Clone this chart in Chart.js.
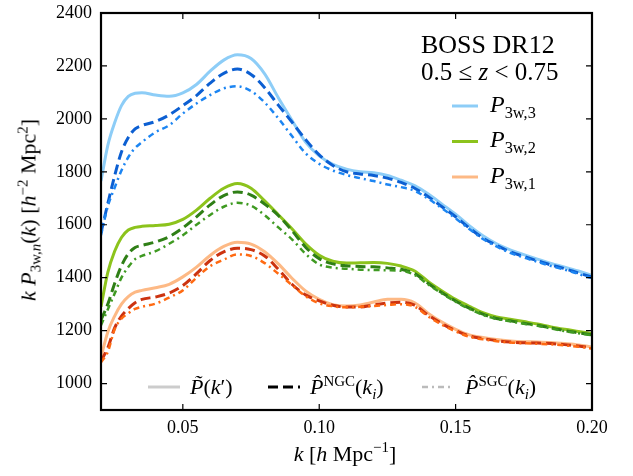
<!DOCTYPE html>
<html>
<head>
<meta charset="utf-8">
<script src="https://cdn.jsdelivr.net/npm/chart.js@4.4.0/dist/chart.umd.min.js"></script>
<style>
body{margin:0;background:#fff;}
#wrap{position:relative;width:633px;height:476px;font-family:"Liberation Serif",serif;color:#000;}
canvas{position:absolute;left:0;top:0;}
.t{position:absolute;white-space:nowrap;line-height:25px;}
.t sub,.t sup{font-size:68%;line-height:0;}
</style>
</head>
<body>
<div id="wrap">
<canvas id="myChart" width="633" height="476"></canvas>
<div class="t" style="left:421px;top:32px;font-size:26px;">BOSS DR12</div>
<div class="t" style="left:421px;top:59px;font-size:25px;">0.5 ≤ <i>z</i> &lt; 0.75</div>
<div class="t" style="left:490px;top:92px;font-size:24px;"><i>P</i><sub>3w,3</sub></div>
<div class="t" style="left:490px;top:127px;font-size:24px;"><i>P</i><sub>3w,2</sub></div>
<div class="t" style="left:490px;top:163px;font-size:24px;"><i>P</i><sub>3w,1</sub></div>
<div class="t" style="left:190px;top:374px;font-size:22px;"><i>P&#771;</i>(<i>k</i>′)</div>
<div class="t" style="left:310px;top:374px;font-size:22px;"><i>P&#770;</i><sup>NGC</sup>(<i>k<sub>i</sub></i>)</div>
<div class="t" style="left:465px;top:374px;font-size:22px;"><i>P&#770;</i><sup>SGC</sup>(<i>k<sub>i</sub></i>)</div>
<div class="t" style="left:345px;top:453px;font-size:22px;transform:translate(-50%,-50%);"><i>k</i> [<i>h</i> Mpc<sup>−1</sup>]</div>
<div class="t" style="left:28px;top:210px;font-size:22px;transform:translate(-50%,-50%) rotate(-90deg);"><i>k</i> <i>P</i><sub>3w,<i>n</i></sub>(<i>k</i>) [<i>h</i><sup>−2</sup> Mpc<sup>2</sup>]</div>
</div>
<script>
'use strict'
// k grid the curves were read at
const kVals = [0.020,0.0225,0.025,0.0275,0.030,0.0325,0.035,0.040,0.045,0.050,
  0.055,0.060,0.065,0.070,0.075,0.080,0.085,0.090,0.095,0.100,
  0.105,0.110,0.115,0.120,0.125,0.130,0.135,0.140,0.145,0.150,
  0.155,0.160,0.165,0.170,0.175,0.180,0.185,0.190,0.195,0.200];

// n = 3
const p3Model = [1765,1900,1985,2050,2085,2097,2099,2090,2085,2098,
  2130,2180,2222,2242,2228,2170,2080,1995,1912,1860,
  1828,1810,1800,1796,1786,1768,1748,1716,1678,1640,
  1596,1558,1528,1505,1487,1470,1454,1440,1425,1408];
const p3Ngc = [1570,1680,1785,1875,1930,1962,1975,1990,2015,2050,
  2088,2135,2172,2188,2168,2118,2052,1988,1922,1864,
  1824,1800,1792,1786,1776,1760,1738,1706,1668,1630,
  1588,1550,1522,1498,1480,1464,1448,1434,1418,1402];
const p3Sgc = [1560,1670,1740,1805,1855,1890,1912,1950,1976,2020,
  2058,2090,2115,2123,2105,2062,2002,1935,1870,1830,
  1805,1788,1776,1765,1752,1742,1728,1698,1662,1624,
  1584,1546,1518,1494,1476,1460,1444,1430,1414,1398];

// n = 2
const p2Model = [1290,1420,1500,1552,1580,1590,1594,1597,1602,1620,
  1655,1700,1738,1756,1738,1690,1638,1585,1528,1485,
  1462,1455,1456,1457,1454,1444,1425,1385,1350,1318,
  1292,1268,1252,1243,1234,1225,1214,1205,1197,1189];
const p2Ngc = [1240,1300,1378,1445,1490,1514,1522,1535,1555,1588,
  1630,1675,1710,1724,1712,1678,1635,1578,1515,1472,
  1452,1445,1442,1441,1437,1432,1415,1378,1343,1312,
  1285,1262,1246,1237,1228,1220,1210,1200,1192,1184];
const p2Sgc = [1220,1280,1340,1400,1440,1470,1482,1500,1528,1560,
  1600,1637,1668,1683,1672,1636,1590,1545,1490,1450,
  1438,1434,1430,1429,1428,1426,1410,1374,1340,1309,
  1282,1259,1244,1235,1226,1218,1208,1198,1190,1182];

// n = 1
const p1Model = [1100,1195,1255,1300,1328,1345,1352,1362,1375,1403,
  1440,1484,1518,1534,1527,1498,1452,1398,1350,1318,
  1298,1293,1297,1308,1318,1318,1305,1265,1232,1205,
  1184,1174,1166,1161,1158,1157,1155,1151,1146,1138];
const p1Ngc = [1085,1135,1210,1255,1283,1305,1318,1327,1342,1370,
  1415,1465,1497,1511,1506,1482,1432,1375,1335,1312,
  1296,1289,1289,1297,1304,1307,1296,1258,1226,1200,
  1180,1170,1162,1157,1154,1153,1151,1147,1142,1135];
const p1Sgc = [1080,1120,1205,1245,1265,1282,1290,1302,1325,1352,
  1400,1443,1468,1488,1482,1455,1415,1372,1330,1303,
  1292,1288,1290,1293,1297,1300,1290,1253,1222,1197,
  1177,1167,1160,1155,1152,1150,1148,1144,1139,1132];

const xTicks = [0.05,0.10,0.15,0.20];
const yTicks = [1000,1200,1400,1600,1800,2000,2200,2400];

const solidW = 3, dashed = [10,5], dashdot = [6,4,2,4];

function line(values, color, dash, width, order){
  return {
    data: kVals.map((k,i)=>({x:k, y:values[i]})),
    borderColor: color,
    borderWidth: width,
    borderDash: dash,
    pointRadius: 0,
    showLine: true,
    fill: false,
    cubicInterpolationMode: 'monotone',
    order: order
  };
}

const datasets = [
  line(p3Model,'#8dcdf7',[],solidW,3),
  line(p3Ngc,'#0c5fd2',dashed,3,2),
  line(p3Sgc,'#1c85f2',dashdot,2.5,1),
  line(p2Model,'#8cc31c',[],solidW,3),
  line(p2Ngc,'#2f7f16',dashed,3,2),
  line(p2Sgc,'#3f9a22',dashdot,2.5,1),
  line(p1Model,'#fdb985',[],solidW,3),
  line(p1Ngc,'#cc3310',dashed,3,2),
  line(p1Sgc,'#ff6a12',dashdot,2.5,1)
];

// inward ticks on all sides, frame, legend swatches
const frame = {
  id: 'frame',
  afterDraw(chart){
    const {ctx, chartArea:a, scales} = chart;
    const x = scales.x, y = scales.y;
    ctx.save();
    ctx.strokeStyle = '#000';
    ctx.lineWidth = 1.2;
    ctx.beginPath();
    x.ticks.forEach(t=>{
      const px = x.getPixelForValue(t.value);
      ctx.moveTo(px,a.bottom); ctx.lineTo(px,a.bottom-6);
      ctx.moveTo(px,a.top); ctx.lineTo(px,a.top+6);
    });
    y.ticks.forEach(t=>{
      const py = y.getPixelForValue(t.value);
      ctx.moveTo(a.left,py); ctx.lineTo(a.left+6,py);
      ctx.moveTo(a.right,py); ctx.lineTo(a.right-6,py);
    });
    ctx.stroke();
    ctx.lineWidth = 2.2;
    ctx.strokeRect(a.left,a.top,a.width,a.height);

    function swatch(x0,x1,yy,color,dash,w){
      ctx.beginPath();
      ctx.setLineDash(dash);
      ctx.strokeStyle = color;
      ctx.lineWidth = w;
      ctx.moveTo(x0,yy); ctx.lineTo(x1,yy);
      ctx.stroke();
    }
    swatch(452,478,106,'#8dcdf7',[],3);
    swatch(452,478,141.5,'#8cc31c',[],3);
    swatch(452,478,177,'#fdb985',[],3);
    swatch(148,180,387,'#cccccc',[],3);
    swatch(268,300,387,'#000000',[10,5],3);
    swatch(422,453,387,'#bbbbbb',dashdot,2.5);
    ctx.restore();
  }
};

const tickFont = {family:'Liberation Serif', size:18};

new Chart(document.getElementById('myChart'), {
  type: 'scatter',
  data: {datasets: datasets},
  options: {
    responsive: false,
    animation: false,
    layout: {padding: {left:0, right:41, top:13, bottom:0}},
    plugins: {legend:{display:false}, tooltip:{enabled:false}},
    scales: {
      x: {
        type: 'linear', min: 0.02, max: 0.20,
        afterBuildTicks: s => { s.ticks = xTicks.map(v=>({value:v})); },
        afterFit: s => { s.height = 66; s.paddingLeft = 0; s.paddingRight = 0; },
        grid: {display:false, drawTicks:false},
        border: {display:false},
        ticks: {font: tickFont, color:'#000', padding:7, callback: v => v.toFixed(2), maxRotation:0}
      },
      y: {
        type: 'linear', min: 900, max: 2400,
        afterBuildTicks: s => { s.ticks = yTicks.map(v=>({value:v})); },
        afterFit: s => { s.width = 101; s.paddingTop = 0; s.paddingBottom = 0; },
        grid: {display:false, drawTicks:false},
        border: {display:false},
        ticks: {font: tickFont, color:'#000', padding:9, callback: v => String(v)}
      }
    }
  },
  plugins: [frame]
});
</script>
</body>
</html>
